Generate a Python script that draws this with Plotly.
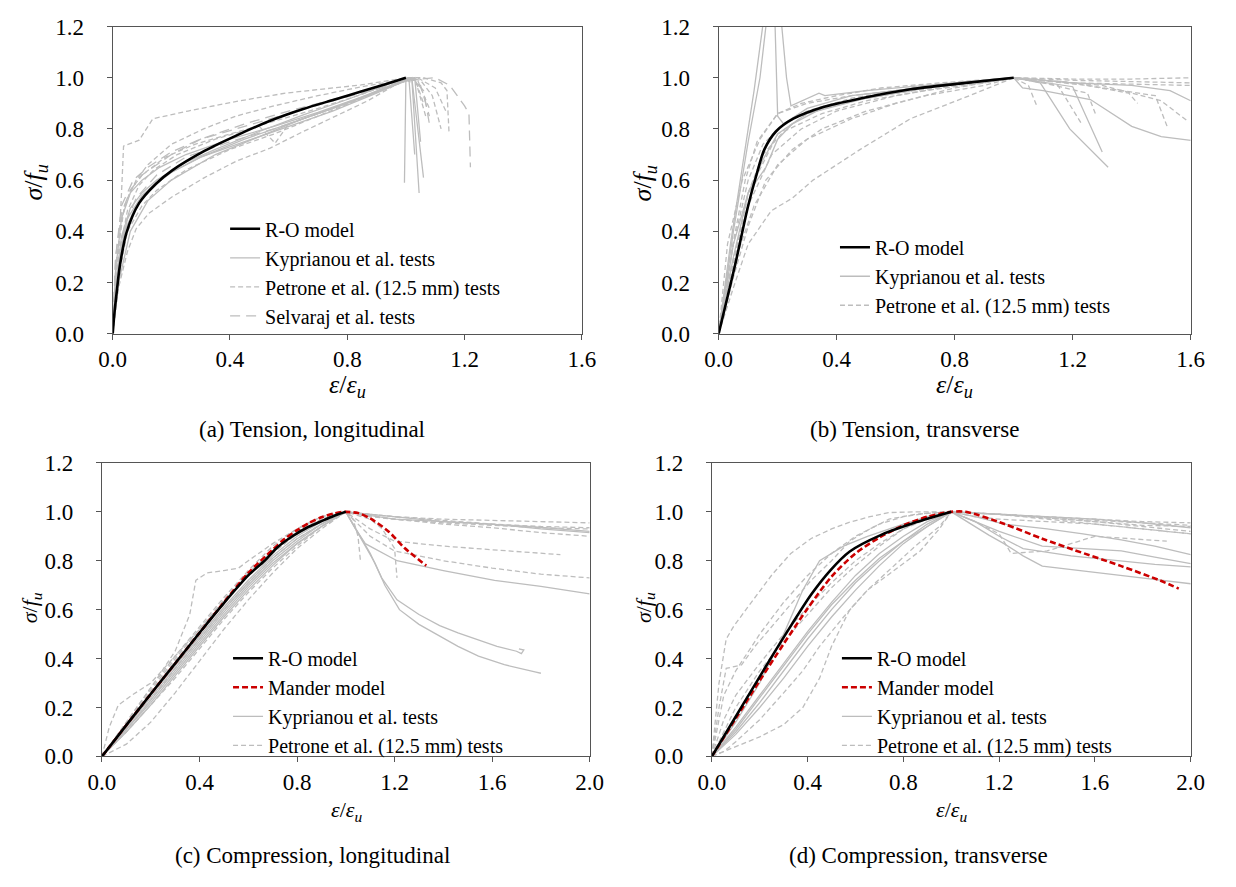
import plotly.graph_objects as go

# ---------------- (a) Tension, longitudinal ----------------
ro_a_x = [0, 0.005, 0.013, 0.025, 0.047, 0.09, 0.147, 0.203, 0.313, 0.423, 0.537, 0.647, 0.757, 0.847, 0.93, 1.0]
ro_a_y = [0, 0.07, 0.156, 0.27, 0.395, 0.51, 0.585, 0.638, 0.714, 0.775, 0.832, 0.877, 0.915, 0.946, 0.975, 1.0]

kyp_a = [
    ([0, 0.01, 0.03, 0.06, 0.1, 0.15, 0.25, 0.35, 0.5, 0.65, 0.8, 0.92, 1.0, 0.995],
     [0, 0.2, 0.38, 0.49, 0.55, 0.6, 0.67, 0.72, 0.79, 0.855, 0.915, 0.965, 1.0, 0.59]),
    ([0, 0.015, 0.04, 0.08, 0.13, 0.2, 0.3, 0.45, 0.6, 0.75, 0.9, 1.0, 1.02, 1.045],
     [0, 0.22, 0.4, 0.5, 0.57, 0.63, 0.69, 0.76, 0.82, 0.88, 0.945, 0.99, 1.0, 0.55]),
    ([0, 0.01, 0.03, 0.06, 0.1, 0.16, 0.25, 0.4, 0.55, 0.7, 0.85, 0.98, 1.02, 1.06],
     [0, 0.25, 0.45, 0.55, 0.6, 0.65, 0.7, 0.76, 0.81, 0.865, 0.925, 0.985, 1.0, 0.61]),
    ([0, 0.02, 0.05, 0.1, 0.18, 0.3, 0.45, 0.6, 0.75, 0.9, 1.0, 1.01, 1.03],
     [0, 0.28, 0.45, 0.54, 0.62, 0.69, 0.75, 0.81, 0.87, 0.94, 0.99, 1.0, 0.7]),
    ([0, 0.02, 0.06, 0.12, 0.2, 0.35, 0.5, 0.65, 0.8, 0.95, 1.03, 1.05],
     [0, 0.2, 0.4, 0.52, 0.6, 0.7, 0.77, 0.84, 0.9, 0.965, 1.0, 0.75]),
]
pet_a = [
    ([0, 0.015, 0.03, 0.037, 0.09, 0.137, 0.257, 0.423, 0.59, 0.703, 0.847, 1.0, 1.06, 1.12, 1.14, 1.147],
     [0, 0.2, 0.55, 0.733, 0.756, 0.84, 0.87, 0.908, 0.94, 0.953, 0.972, 1.0, 1.0, 0.98, 0.95, 0.787]),
    ([0, 0.015, 0.04, 0.08, 0.12, 0.2, 0.31, 0.42, 0.55, 0.7, 0.85, 1.0, 1.04, 1.1, 1.14],
     [0, 0.3, 0.5, 0.6, 0.66, 0.74, 0.8, 0.85, 0.89, 0.93, 0.965, 0.995, 1.0, 0.96, 0.86]),
    ([0, 0.01, 0.03, 0.06, 0.1, 0.18, 0.28, 0.4, 0.55, 0.7, 0.85, 1.0, 1.05, 1.09, 1.12],
     [0, 0.25, 0.45, 0.56, 0.62, 0.69, 0.74, 0.78, 0.83, 0.88, 0.935, 1.0, 0.99, 0.93, 0.8]),
    ([0, 0.02, 0.05, 0.1, 0.15, 0.25, 0.4, 0.55, 0.7, 0.85, 1.0, 1.04, 1.08],
     [0, 0.22, 0.4, 0.5, 0.56, 0.64, 0.72, 0.78, 0.85, 0.92, 0.99, 0.99, 0.88]),
    ([0, 0.02, 0.05, 0.09, 0.14, 0.22, 0.35, 0.5, 0.554, 0.6, 0.75, 0.9, 1.0, 1.03, 1.07],
     [0, 0.3, 0.48, 0.58, 0.64, 0.7, 0.76, 0.81, 0.744, 0.82, 0.88, 0.945, 0.99, 1.0, 0.84]),
    ([0, 0.02, 0.05, 0.08, 0.123, 0.203, 0.313, 0.423, 0.537, 0.65, 0.76, 0.87, 0.96, 1.0, 1.03, 1.06],
     [0, 0.18, 0.32, 0.41, 0.47, 0.535, 0.61, 0.675, 0.725, 0.79, 0.85, 0.91, 0.97, 0.99, 1.0, 0.9]),
]
sel_a = [
    ([0, 0.01, 0.03, 0.06, 0.1, 0.2, 0.3, 0.45, 0.6, 0.75, 0.9, 1.0, 1.1, 1.15, 1.2, 1.215, 1.22],
     [0, 0.3, 0.47, 0.56, 0.62, 0.7, 0.76, 0.81, 0.86, 0.91, 0.955, 0.99, 1.0, 0.97, 0.89, 0.86, 0.65]),
    ([0, 0.01, 0.03, 0.07, 0.12, 0.2, 0.3, 0.45, 0.6, 0.8, 0.95, 1.02, 1.06, 1.08],
     [0, 0.3, 0.5, 0.6, 0.65, 0.71, 0.76, 0.82, 0.87, 0.93, 0.98, 1.0, 0.95, 0.82]),
    ([0, 0.015, 0.04, 0.08, 0.15, 0.25, 0.4, 0.55, 0.7, 0.85, 1.0, 1.05, 1.08],
     [0, 0.22, 0.42, 0.53, 0.62, 0.69, 0.75, 0.8, 0.86, 0.925, 0.99, 0.97, 0.85]),
]

# ---------------- (b) Tension, transverse ----------------
ro_b_x = [0, 0.056, 0.1, 0.128, 0.155, 0.194, 0.253, 0.352, 0.484, 0.65, 0.8, 1.0]
ro_b_y = [0, 0.27, 0.5, 0.62, 0.72, 0.79, 0.84, 0.885, 0.92, 0.955, 0.975, 1.0]

kyp_b = [
    ([0, 0.04, 0.08, 0.12, 0.155, 0.165, 0.19, 0.2, 0.22, 0.3, 0.45, 0.6, 0.8, 1.0, 1.03, 1.1, 1.26, 1.4, 1.5, 1.6],
     [0, 0.35, 0.65, 0.95, 1.25, 1.3, 1.25, 0.85, 0.82, 0.88, 0.93, 0.95, 0.98, 1.0, 0.96, 0.95, 0.915, 0.81, 0.77, 0.755]),
    ([0, 0.05, 0.1, 0.14, 0.17, 0.19, 0.21, 0.23, 0.245, 0.3, 0.34, 0.36, 0.5, 0.7, 0.9, 1.0, 1.09, 1.19, 1.32],
     [0, 0.4, 0.75, 1.0, 1.3, 1.3, 1.25, 1.0, 0.89, 0.92, 0.94, 0.93, 0.95, 0.97, 0.99, 1.0, 0.98, 0.8, 0.65]),
    ([0, 0.05, 0.1, 0.13, 0.16, 0.2, 0.25, 0.35, 0.5, 0.7, 0.9, 1.0, 1.2, 1.3],
     [0, 0.35, 0.55, 0.6, 0.65, 0.76, 0.82, 0.88, 0.92, 0.96, 0.99, 1.0, 0.965, 0.71]),
    ([0, 0.05, 0.1, 0.15, 0.2, 0.3, 0.5, 0.7, 0.9, 1.0, 1.2, 1.4, 1.53, 1.6],
     [0, 0.3, 0.55, 0.68, 0.78, 0.86, 0.92, 0.96, 0.99, 1.0, 0.98, 0.97, 0.95, 0.91]),
]
pet_b = [
    ([0, 0.04, 0.09, 0.13, 0.2, 0.3, 0.45, 0.6, 0.75, 0.9, 1.0, 1.2, 1.4, 1.6],
     [0, 0.3, 0.6, 0.75, 0.86, 0.9, 0.93, 0.95, 0.97, 0.99, 1.0, 0.995, 0.995, 1.0]),
    ([0, 0.05, 0.1, 0.15, 0.22, 0.3, 0.45, 0.6, 0.8, 1.0, 1.2, 1.4, 1.6],
     [0, 0.35, 0.6, 0.74, 0.82, 0.87, 0.92, 0.95, 0.98, 1.0, 0.98, 0.975, 0.97]),
    ([0, 0.03, 0.08, 0.14, 0.2, 0.28, 0.4, 0.55, 0.75, 0.95, 1.0, 1.05, 1.08],
     [0, 0.35, 0.6, 0.76, 0.86, 0.9, 0.93, 0.96, 0.98, 0.995, 1.0, 0.97, 0.885]),
    ([0, 0.05, 0.1, 0.16, 0.25, 0.35, 0.5, 0.7, 0.9, 1.0, 1.15, 1.23],
     [0, 0.22, 0.42, 0.6, 0.72, 0.8, 0.87, 0.93, 0.97, 1.0, 0.97, 0.82]),
    ([0, 0.05, 0.1, 0.178, 0.25, 0.32, 0.48, 0.65, 0.85, 1.0, 1.2, 1.4, 1.6],
     [0, 0.18, 0.35, 0.48, 0.53, 0.6, 0.72, 0.84, 0.93, 1.0, 0.99, 0.985, 0.98]),
    ([0, 0.06, 0.12, 0.2, 0.3, 0.45, 0.6, 0.8, 1.0, 1.1, 1.25, 1.28],
     [0, 0.3, 0.5, 0.66, 0.76, 0.84, 0.9, 0.96, 1.0, 0.98, 0.94, 0.85]),
    ([0, 0.04, 0.1, 0.18, 0.28, 0.4, 0.6, 0.8, 1.0, 1.2, 1.39, 1.42],
     [0, 0.25, 0.5, 0.7, 0.8, 0.87, 0.93, 0.97, 1.0, 0.98, 0.94, 0.9]),
    ([0, 0.05, 0.1, 0.15, 0.22, 0.35, 0.5, 0.7, 0.9, 1.0, 1.25, 1.48, 1.52],
     [0, 0.28, 0.55, 0.7, 0.79, 0.86, 0.91, 0.95, 0.98, 1.0, 0.97, 0.93, 0.81]),
    ([0, 0.1, 0.2, 0.3, 0.45, 0.6, 0.8, 1.0, 1.3, 1.5, 1.59],
     [0, 0.55, 0.78, 0.86, 0.91, 0.94, 0.97, 1.0, 0.97, 0.91, 0.83]),
]

# ---------------- (c) Compression, longitudinal ----------------
ro_c_x = [0, 0.1, 0.2, 0.3, 0.4, 0.5, 0.6, 0.667, 0.72, 0.778, 0.84, 0.905, 0.95, 1.0]
ro_c_y = [0, 0.128, 0.255, 0.38, 0.505, 0.627, 0.74, 0.8, 0.855, 0.898, 0.935, 0.964, 0.983, 1.0]
mander_c_x = [0, 0.1, 0.2, 0.3, 0.4, 0.5, 0.6, 0.7, 0.75, 0.8, 0.85, 0.9, 0.95, 0.988, 1.0, 1.05, 1.1, 1.175, 1.24, 1.33]
mander_c_y = [0, 0.128, 0.255, 0.38, 0.505, 0.63, 0.75, 0.845, 0.89, 0.925, 0.955, 0.978, 0.993, 1.0, 1.0, 0.995, 0.973, 0.92, 0.853, 0.78]

kyp_c = [
    ([0, 0.1, 0.2, 0.3, 0.4, 0.5, 0.6, 0.7, 0.8, 0.9, 0.97, 1.0, 1.03, 1.06, 1.1, 1.147, 1.21, 1.3, 1.385, 1.46, 1.544, 1.62, 1.7, 1.72, 1.73, 1.71],
     [0, 0.11, 0.23, 0.35, 0.47, 0.59, 0.7, 0.8, 0.88, 0.95, 0.99, 1.0, 0.95, 0.9, 0.83, 0.73, 0.64, 0.58, 0.535, 0.505, 0.475, 0.45, 0.43, 0.42, 0.435, 0.44]),
    ([0, 0.1, 0.2, 0.3, 0.4, 0.5, 0.6, 0.7, 0.8, 0.9, 1.0, 1.04, 1.08, 1.12, 1.16, 1.22, 1.3, 1.385, 1.46, 1.544, 1.65, 1.78, 1.8],
     [0, 0.1, 0.21, 0.33, 0.45, 0.57, 0.68, 0.78, 0.87, 0.94, 1.0, 0.93, 0.86, 0.79, 0.7, 0.6, 0.54, 0.494, 0.45, 0.41, 0.375, 0.345, 0.34]),
    ([0, 0.1, 0.2, 0.3, 0.4, 0.5, 0.6, 0.7, 0.8, 0.9, 1.0, 1.04, 1.08, 1.21, 1.4, 1.61, 1.8, 2.0],
     [0, 0.12, 0.24, 0.36, 0.48, 0.6, 0.71, 0.81, 0.89, 0.95, 1.0, 0.93, 0.87, 0.8, 0.76, 0.72, 0.695, 0.665]),
    ([0, 0.1, 0.2, 0.3, 0.4, 0.5, 0.6, 0.7, 0.8, 0.9, 1.0, 1.2, 1.4, 1.6, 1.8, 2.0],
     [0, 0.12, 0.25, 0.37, 0.49, 0.61, 0.72, 0.82, 0.9, 0.96, 1.0, 0.98, 0.96, 0.95, 0.93, 0.915]),
    ([0, 0.1, 0.2, 0.3, 0.4, 0.5, 0.6, 0.7, 0.8, 0.9, 1.0, 1.2, 1.5, 1.75, 2.0],
     [0, 0.11, 0.22, 0.34, 0.46, 0.58, 0.69, 0.79, 0.87, 0.94, 1.0, 0.97, 0.955, 0.94, 0.92]),
]
pet_c = [
    ([0, 0.03, 0.067, 0.13, 0.2, 0.3, 0.4, 0.5, 0.6, 0.7, 0.8, 0.9, 1.0, 1.2, 1.4, 1.6, 1.8, 2.0],
     [0, 0.12, 0.21, 0.255, 0.3, 0.41, 0.52, 0.63, 0.74, 0.84, 0.92, 0.97, 1.0, 0.98, 0.97, 0.965, 0.96, 0.955]),
    ([0, 0.1, 0.2, 0.3, 0.36, 0.385, 0.43, 0.5, 0.56, 0.6, 0.7, 0.8, 0.9, 1.0, 1.1, 1.2, 1.4, 1.6, 1.8, 2.0],
     [0, 0.14, 0.28, 0.43, 0.58, 0.72, 0.75, 0.76, 0.77, 0.8, 0.87, 0.93, 0.98, 1.0, 0.98, 0.97, 0.955, 0.945, 0.935, 0.93]),
    ([0, 0.1, 0.2, 0.3, 0.4, 0.5, 0.6, 0.7, 0.8, 0.9, 1.0, 1.1, 1.2, 1.4, 1.6, 1.88],
     [0, 0.05, 0.14, 0.26, 0.39, 0.52, 0.64, 0.75, 0.85, 0.93, 1.0, 0.93, 0.88, 0.86, 0.845, 0.825]),
    ([0, 0.1, 0.2, 0.3, 0.4, 0.5, 0.6, 0.7, 0.8, 0.9, 1.0, 1.1, 1.2, 1.4, 1.6, 1.8, 2.0],
     [0, 0.13, 0.27, 0.4, 0.52, 0.64, 0.75, 0.84, 0.91, 0.96, 1.0, 0.9, 0.84, 0.8, 0.77, 0.745, 0.73]),
    ([0, 0.1, 0.2, 0.3, 0.4, 0.5, 0.6, 0.7, 0.8, 0.9, 1.0, 1.03, 1.05, 1.06],
     [0, 0.14, 0.28, 0.41, 0.53, 0.65, 0.76, 0.86, 0.93, 0.98, 1.0, 0.97, 0.9, 0.8]),
    ([0, 0.1, 0.2, 0.3, 0.4, 0.5, 0.6, 0.7, 0.8, 0.9, 1.0, 1.1, 1.15, 1.2, 1.21],
     [0, 0.11, 0.23, 0.36, 0.48, 0.6, 0.71, 0.81, 0.89, 0.95, 1.0, 0.97, 0.93, 0.85, 0.73]),
    ([0, 0.1, 0.2, 0.3, 0.4, 0.5, 0.6, 0.7, 0.8, 0.9, 1.0, 1.2, 1.4, 1.6, 1.8, 2.0],
     [0, 0.1, 0.21, 0.32, 0.44, 0.56, 0.67, 0.77, 0.86, 0.94, 1.0, 0.97, 0.95, 0.935, 0.915, 0.9]),
    ([0, 0.1, 0.2, 0.3, 0.4, 0.5, 0.6, 0.7, 0.8, 0.9, 1.0, 1.2, 1.4, 1.6, 1.8, 2.0],
     [0, 0.13, 0.26, 0.39, 0.51, 0.63, 0.74, 0.83, 0.91, 0.97, 1.0, 0.98, 0.965, 0.95, 0.94, 0.935]),
]

# ---------------- (d) Compression, transverse ----------------
ro_d_x = [0, 0.092, 0.17, 0.253, 0.334, 0.415, 0.496, 0.576, 0.705, 0.834, 1.0]
ro_d_y = [0, 0.15, 0.277, 0.412, 0.54, 0.662, 0.762, 0.838, 0.905, 0.951, 1.0]
mander_d_x = [0, 0.1, 0.2, 0.3, 0.4, 0.5, 0.6, 0.7, 0.8, 0.9, 1.0, 1.06, 1.22, 1.38, 1.51, 1.71, 1.87, 1.95]
mander_d_y = [0, 0.155, 0.31, 0.46, 0.605, 0.735, 0.83, 0.895, 0.945, 0.98, 1.0, 1.0, 0.951, 0.89, 0.845, 0.778, 0.72, 0.686]

kyp_d = [
    ([0, 0.1, 0.2, 0.3, 0.4, 0.5, 0.6, 0.7, 0.8, 0.9, 1.0, 1.08, 1.157, 1.22, 1.3, 1.38, 1.545, 1.75, 2.0],
     [0, 0.11, 0.24, 0.37, 0.5, 0.62, 0.72, 0.81, 0.88, 0.95, 1.0, 0.95, 0.905, 0.87, 0.82, 0.778, 0.758, 0.735, 0.706]),
    ([0, 0.1, 0.2, 0.3, 0.4, 0.5, 0.6, 0.7, 0.8, 0.9, 1.0, 1.1, 1.22, 1.4, 1.55, 1.71, 1.85, 2.0],
     [0, 0.1, 0.22, 0.35, 0.48, 0.6, 0.71, 0.8, 0.88, 0.94, 1.0, 0.98, 0.95, 0.93, 0.91, 0.885, 0.86, 0.825]),
    ([0, 0.1, 0.2, 0.3, 0.4, 0.5, 0.6, 0.7, 0.8, 0.9, 1.0, 1.1, 1.2, 1.38, 1.55, 1.71, 1.85, 2.0],
     [0, 0.12, 0.25, 0.38, 0.51, 0.63, 0.74, 0.83, 0.9, 0.96, 1.0, 0.96, 0.92, 0.86, 0.85, 0.84, 0.815, 0.788]),
    ([0, 0.1, 0.2, 0.3, 0.38, 0.45, 0.55, 0.65, 0.8, 0.9, 1.0, 1.1, 1.2, 1.3, 1.5, 1.7, 1.85, 2.0],
     [0, 0.14, 0.3, 0.5, 0.68, 0.8, 0.86, 0.9, 0.95, 0.98, 1.0, 0.96, 0.9, 0.85, 0.82, 0.8, 0.785, 0.775]),
    ([0, 0.1, 0.2, 0.3, 0.4, 0.5, 0.6, 0.7, 0.8, 0.9, 1.0, 1.2, 1.4, 1.6, 1.8, 2.0],
     [0, 0.09, 0.2, 0.32, 0.45, 0.57, 0.68, 0.78, 0.87, 0.94, 1.0, 0.99, 0.98, 0.97, 0.955, 0.935]),
]
pet_d = [
    ([0, 0.03, 0.06, 0.092, 0.15, 0.253, 0.33, 0.415, 0.5, 0.576, 0.66, 0.738, 0.85, 1.0, 1.2, 1.4, 1.6, 1.8, 2.0],
     [0, 0.3, 0.48, 0.533, 0.61, 0.745, 0.83, 0.891, 0.93, 0.958, 0.98, 0.997, 1.0, 1.0, 0.99, 0.98, 0.97, 0.96, 0.955]),
    ([0, 0.03, 0.06, 0.124, 0.18, 0.25, 0.33, 0.415, 0.5, 0.576, 0.66, 0.74, 0.85, 1.0, 1.2, 1.4, 1.6, 1.8, 2.0],
     [0, 0.2, 0.36, 0.374, 0.45, 0.53, 0.62, 0.72, 0.8, 0.88, 0.93, 0.97, 0.99, 1.0, 0.99, 0.975, 0.96, 0.94, 0.92]),
    ([0, 0.1, 0.2, 0.3, 0.38, 0.45, 0.5, 0.576, 0.65, 0.74, 0.87, 0.95, 1.0, 1.1, 1.2, 1.4, 1.6, 1.8, 2.0],
     [0, 0.04, 0.08, 0.13, 0.2, 0.32, 0.45, 0.6, 0.68, 0.745, 0.84, 0.93, 1.0, 0.98, 0.97, 0.96, 0.95, 0.93, 0.91]),
    ([0, 0.05, 0.1, 0.2, 0.3, 0.4, 0.5, 0.6, 0.7, 0.8, 0.9, 1.0, 1.2, 1.4, 1.6, 1.8, 2.0],
     [0, 0.25, 0.35, 0.5, 0.63, 0.74, 0.83, 0.9, 0.95, 0.98, 0.995, 1.0, 0.99, 0.975, 0.96, 0.945, 0.94]),
    ([0, 0.05, 0.1, 0.2, 0.3, 0.4, 0.5, 0.6, 0.7, 0.8, 0.9, 1.0, 1.1, 1.2, 1.25, 1.4, 1.6, 1.9],
     [0, 0.15, 0.25, 0.38, 0.5, 0.61, 0.71, 0.8, 0.87, 0.93, 0.97, 1.0, 0.96, 0.91, 0.83, 0.84, 0.9, 0.88]),
    ([0, 0.05, 0.1, 0.2, 0.3, 0.4, 0.5, 0.6, 0.7, 0.8, 0.9, 1.0, 1.2, 1.4, 1.6, 1.8, 2.0],
     [0, 0.1, 0.2, 0.35, 0.47, 0.58, 0.69, 0.78, 0.86, 0.93, 0.98, 1.0, 0.99, 0.97, 0.95, 0.93, 0.91]),
    ([0, 0.05, 0.1, 0.2, 0.3, 0.38, 0.45, 0.55, 0.65, 0.75, 0.85, 0.95, 1.0, 1.2, 1.6, 2.0],
     [0, 0.02, 0.06, 0.15, 0.26, 0.35, 0.45, 0.57, 0.68, 0.77, 0.86, 0.94, 1.0, 0.99, 0.965, 0.945]),
]

# ---------------- styling ----------------
W, H = 1236, 887
FONT = '"Liberation Serif", "Times New Roman", Times, serif'
GREY = "#bdbdbd"
PET_DASH = "5px,3px"
SEL_DASH = "10px,6px"
LEG_SIZE = 20

panels = [
    dict(key="a", sfx="", dom=(101, 581, 15, 331), xmax=1.6, leg="legend",
         ro=(ro_a_x, ro_a_y), mander=None, kyp=kyp_a, pet=pet_a, sel=sel_a,
         legpos=(216, 203), caption="(a) Tension, longitudinal", cap=(305, 430),
         xt=(341, 385), yt=(22, 176), tsize=26),
    dict(key="b", sfx="2", dom=(721, 1204, 15, 331), xmax=1.6, leg="legend2",
         ro=(ro_b_x, ro_b_y), mander=None, kyp=kyp_b, pet=pet_b, sel=None,
         legpos=(840, 222), caption="(b) Tension, transverse", cap=(921, 430),
         xt=(962, 385), yt=(645, 176), tsize=26),
    dict(key="c", sfx="3", dom=(90, 589, 464, 766), xmax=2.0, leg="legend3",
         ro=(ro_c_x, ro_c_y), mander=(mander_c_x, mander_c_y), kyp=kyp_c, pet=pet_c, sel=None,
         legpos=(219, 645), caption="(c) Compression, longitudinal", cap=(305, 868),
         xt=(340, 822), yt=(17, 613), tsize=22),
    dict(key="d", sfx="4", dom=(714, 1204, 464, 766), xmax=2.0, leg="legend4",
         ro=(ro_d_x, ro_d_y), mander=(mander_d_x, mander_d_y), kyp=kyp_d, pet=pet_d, sel=None,
         legpos=(842, 645), caption="(d) Compression, transverse", cap=(925, 868),
         xt=(959, 822), yt=(645, 613), tsize=22),
]

fig = go.Figure()
layout = dict(
    width=W, height=H, autosize=False,
    margin=dict(l=0, r=0, t=0, b=0),
    paper_bgcolor="white", plot_bgcolor="white",
    font=dict(family=FONT, size=22, color="black"),
    annotations=[],
)


def add_group(p, curves, name, dash, rank):
    for i, (xs, ys) in enumerate(curves):
        fig.add_trace(go.Scatter(
            x=xs, y=ys, mode="lines", name=name,
            line=dict(color=GREY, width=1.3, dash=dash),
            xaxis="x" + p["sfx"], yaxis="y" + p["sfx"],
            legend=p["leg"], legendgroup=p["key"] + name, legendrank=rank,
            showlegend=(i == 0), hoverinfo="skip",
        ))


for p in panels:
    add_group(p, p["kyp"], "Kyprianou et al. tests", "solid", 3)
    add_group(p, p["pet"], "Petrone et al. (12.5 mm) tests", PET_DASH, 4)
    if p["sel"]:
        add_group(p, p["sel"], "Selvaraj et al. tests", SEL_DASH, 5)
    if p["mander"]:
        fig.add_trace(go.Scatter(
            x=p["mander"][0], y=p["mander"][1], mode="lines", name="Mander model",
            line=dict(color="#cc0000", width=2.6, dash="6px,3px", shape="spline", smoothing=0.8),
            xaxis="x" + p["sfx"], yaxis="y" + p["sfx"],
            legend=p["leg"], legendrank=2, hoverinfo="skip",
        ))
    fig.add_trace(go.Scatter(
        x=p["ro"][0], y=p["ro"][1], mode="lines", name="R-O model",
        line=dict(color="black", width=2.6, shape="spline", smoothing=0.8),
        xaxis="x" + p["sfx"], yaxis="y" + p["sfx"],
        legend=p["leg"], legendrank=1, hoverinfo="skip",
    ))

    x0, x1, yt, yb = p["dom"]
    axcommon = dict(
        showline=True, linecolor="#555555", linewidth=1, mirror=True,
        ticks="outside", ticklen=5, tickcolor="#555555", tickwidth=1,
        showgrid=False, zeroline=False, tickformat=".1f",
        tickfont=dict(family=FONT, size=23, color="black"),
    )
    layout["xaxis" + p["sfx"]] = dict(
        axcommon, domain=[x0 / W, x1 / W], range=[0, p["xmax"]], dtick=0.4,
        anchor="y" + p["sfx"], ticklabelstandoff=0,
    )
    layout["yaxis" + p["sfx"]] = dict(
        axcommon, domain=[1 - yb / H, 1 - yt / H], range=[0, 1.2], dtick=0.2,
        anchor="x" + p["sfx"], ticklabelstandoff=18,
    )
    lx, ly = p["legpos"]
    layout[p["leg"]] = dict(
        x=lx / W, y=1 - ly / H, xanchor="left", yanchor="top",
        xref="paper", yref="paper",
        bgcolor="rgba(0,0,0,0)", borderwidth=0, tracegroupgap=0,
        font=dict(family=FONT, size=LEG_SIZE, color="black"),
        itemwidth=30,
    )
    layout["annotations"] += [
        dict(text="<i>ε</i>/<i>ε<sub>u</sub></i>", x=p["xt"][0] / W, y=1 - p["xt"][1] / H,
             xref="paper", yref="paper", showarrow=False, xanchor="center", yanchor="middle",
             font=dict(family=FONT, size=p["tsize"])),
        dict(text="<i>σ</i>/<i>f<sub>u</sub></i>", x=p["yt"][0] / W, y=1 - p["yt"][1] / H,
             xref="paper", yref="paper", showarrow=False, xanchor="center", yanchor="middle",
             textangle=-90, font=dict(family=FONT, size=p["tsize"])),
        dict(text=p["caption"], x=p["cap"][0] / W, y=1 - p["cap"][1] / H,
             xref="paper", yref="paper", showarrow=False, xanchor="center", yanchor="middle",
             font=dict(family=FONT, size=23)),
    ]

fig.update_layout(**layout)
fig.write_html("out.html")
